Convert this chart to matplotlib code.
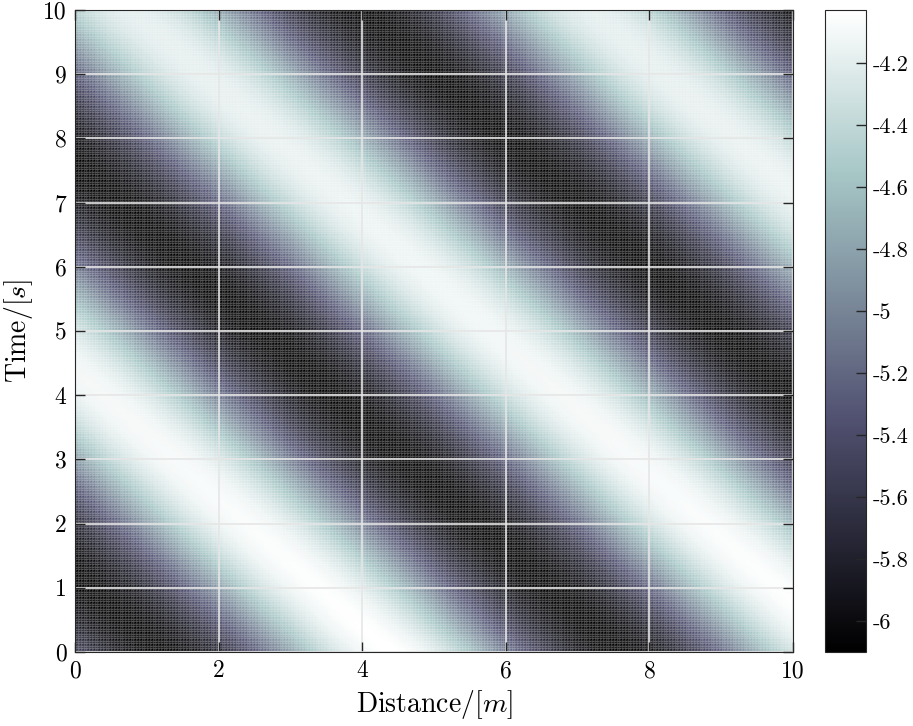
import numpy as np
import matplotlib.pyplot as plt

plt.rcParams['font.family'] = 'serif'
plt.rcParams['font.serif'] = ['cmr10']
plt.rcParams['mathtext.fontset'] = 'cm'
plt.rcParams['axes.unicode_minus'] = False

# Wave: bright crests along x + t = 4.4, 10.8, 17.2
distance = np.linspace(0, 10, 261)
time = np.linspace(0, 10, 261)
level_low = -6.10
crest_level = [-4.03, -4.20]   # crest value at t = 0 and t = 10
crest_offset = 4.4
wave_period = 6.4
clim = [-6.10, -4.03]

X, T = np.meshgrid(distance, time)
shape = 0.5 * (1 + np.cos(2 * np.pi * (X + T - crest_offset) / wave_period))
crest = crest_level[0] + (crest_level[1] - crest_level[0]) * T / 10
Z = level_low + (crest - level_low) * shape

xticks = [0, 2, 4, 6, 8, 10]
yticks = [0, 1, 2, 3, 4, 5, 6, 7, 8, 9, 10]
cticks = [-6, -5.8, -5.6, -5.4, -5.2, -5, -4.8, -4.6, -4.4, -4.2]

fig = plt.figure(figsize=(9.13, 7.26), dpi=100)
ax = fig.add_axes([0.0821, 0.1019, 0.7865, 0.8843])
cax = fig.add_axes([0.9036, 0.1019, 0.0449, 0.8843])

mesh = ax.pcolormesh(X, T, Z, cmap='bone', vmin=clim[0], vmax=clim[1],
                     shading='nearest', edgecolors=(1, 1, 1, 0.12),
                     linewidth=0.25)
ax.set_xlim(0, 10)
ax.set_ylim(0, 10)
ax.set_xticks(xticks)
ax.set_yticks(yticks)
ax.set_xticklabels([str(v) for v in xticks])
ax.set_yticklabels([str(v) for v in yticks])
ax.grid(True, color='#e6e6e6', linewidth=1.2)
ax.tick_params(direction='in', length=7, width=1, color='#262626',
               top=True, right=True, labelsize=17, pad=6)
for s in ax.spines.values():
    s.set_color('#262626')
ax.set_xlabel('Distance/$[m]$', fontsize=20, labelpad=4)
ax.set_ylabel('Time/$[s]$', fontsize=20, labelpad=6)

cb = fig.colorbar(mesh, cax=cax)
cb.set_ticks(cticks)
cb.set_ticklabels(['%g' % v for v in cticks])
cb.ax.tick_params(direction='in', length=7, width=1, color='#262626',
                  labelsize=16, pad=5)
cb.outline.set_edgecolor('#262626')

fig.savefig('out.png', dpi=100)
